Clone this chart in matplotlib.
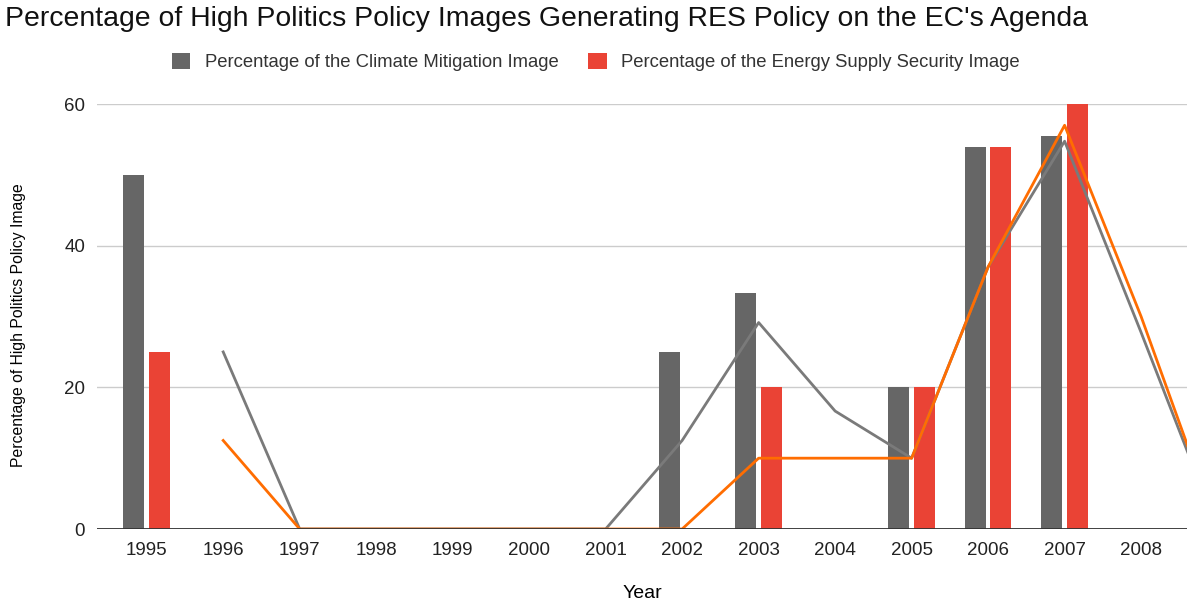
import numpy as np
import matplotlib.pyplot as plt

plt.rcParams['font.family'] = ['Liberation Sans', 'DejaVu Sans']

years = ['1995', '1996', '1997', '1998', '1999', '2000', '2001', '2002',
         '2003', '2004', '2005', '2006', '2007', '2008', '2009']
climate = [50, 0, 0, 0, 0, 0, 0, 25, 33.3, 0, 20, 54, 55.5, 0, 0]
energy = [25, 0, 0, 0, 0, 0, 0, 0, 20, 0, 20, 54, 60, 0, 0]

climate = np.array(climate)
energy = np.array(energy)
x = np.arange(len(years))

# 2-period moving average trendlines
ma_climate = (climate[1:] + climate[:-1]) / 2
ma_energy = (energy[1:] + energy[:-1]) / 2

fig = plt.figure(figsize=(11.87, 6.03), dpi=100)
ax = fig.add_axes([0.0817, 0.1227, 0.9183, 0.7048])

w = 0.275
ax.bar(x - 0.167, climate, w, color='#666666', zorder=2,
       label='Percentage of the Climate Mitigation Image')
ax.bar(x + 0.167, energy, w, color='#ea4335', zorder=2,
       label='Percentage of the Energy Supply Security Image')

ax.plot(x[1:], ma_climate, color='#7a7a7a', lw=2, zorder=3)
ax.plot(x[1:], ma_energy, color='#ff6d01', lw=2, zorder=3)

ax.set_xticks(x)
ax.set_xticklabels(years)
ax.set_yticks([0, 20, 40, 60])
ax.set_xlim(-0.65, 13.6)
ax.set_ylim(0, 60)
ax.tick_params(length=0, labelsize=13.5, colors='#222222')
ax.tick_params(axis='x', pad=9.5)
ax.tick_params(axis='y', pad=8.6)
ax.grid(axis='y', color='#cccccc', lw=1, zorder=0)
ax.axhline(0, color='#333333', lw=1.3, zorder=4)
for s in ax.spines.values():
    s.set_visible(False)

ax.set_xlabel('Year', fontsize=14, va='center')
ax.xaxis.set_label_coords(0.5, -0.1506)
ax.set_ylabel('Percentage of High Politics Policy Image', fontsize=11.3, va='center')
ax.yaxis.set_label_coords(-0.072, 0.48)

fig.text(0.004, 0.968, "Percentage of High Politics Policy Images Generating RES Policy on the EC's Agenda",
         fontsize=20.4, va='center', ha='left', color='#111111')

fig.legend(loc='center', bbox_to_anchor=(0.502, 0.897), ncol=2, frameon=False,
           fontsize=13.3, handlelength=1.0, handleheight=1.0, columnspacing=1.6,
           handletextpad=0.8, labelcolor='#333333')

fig.savefig('out.png', dpi=100)
